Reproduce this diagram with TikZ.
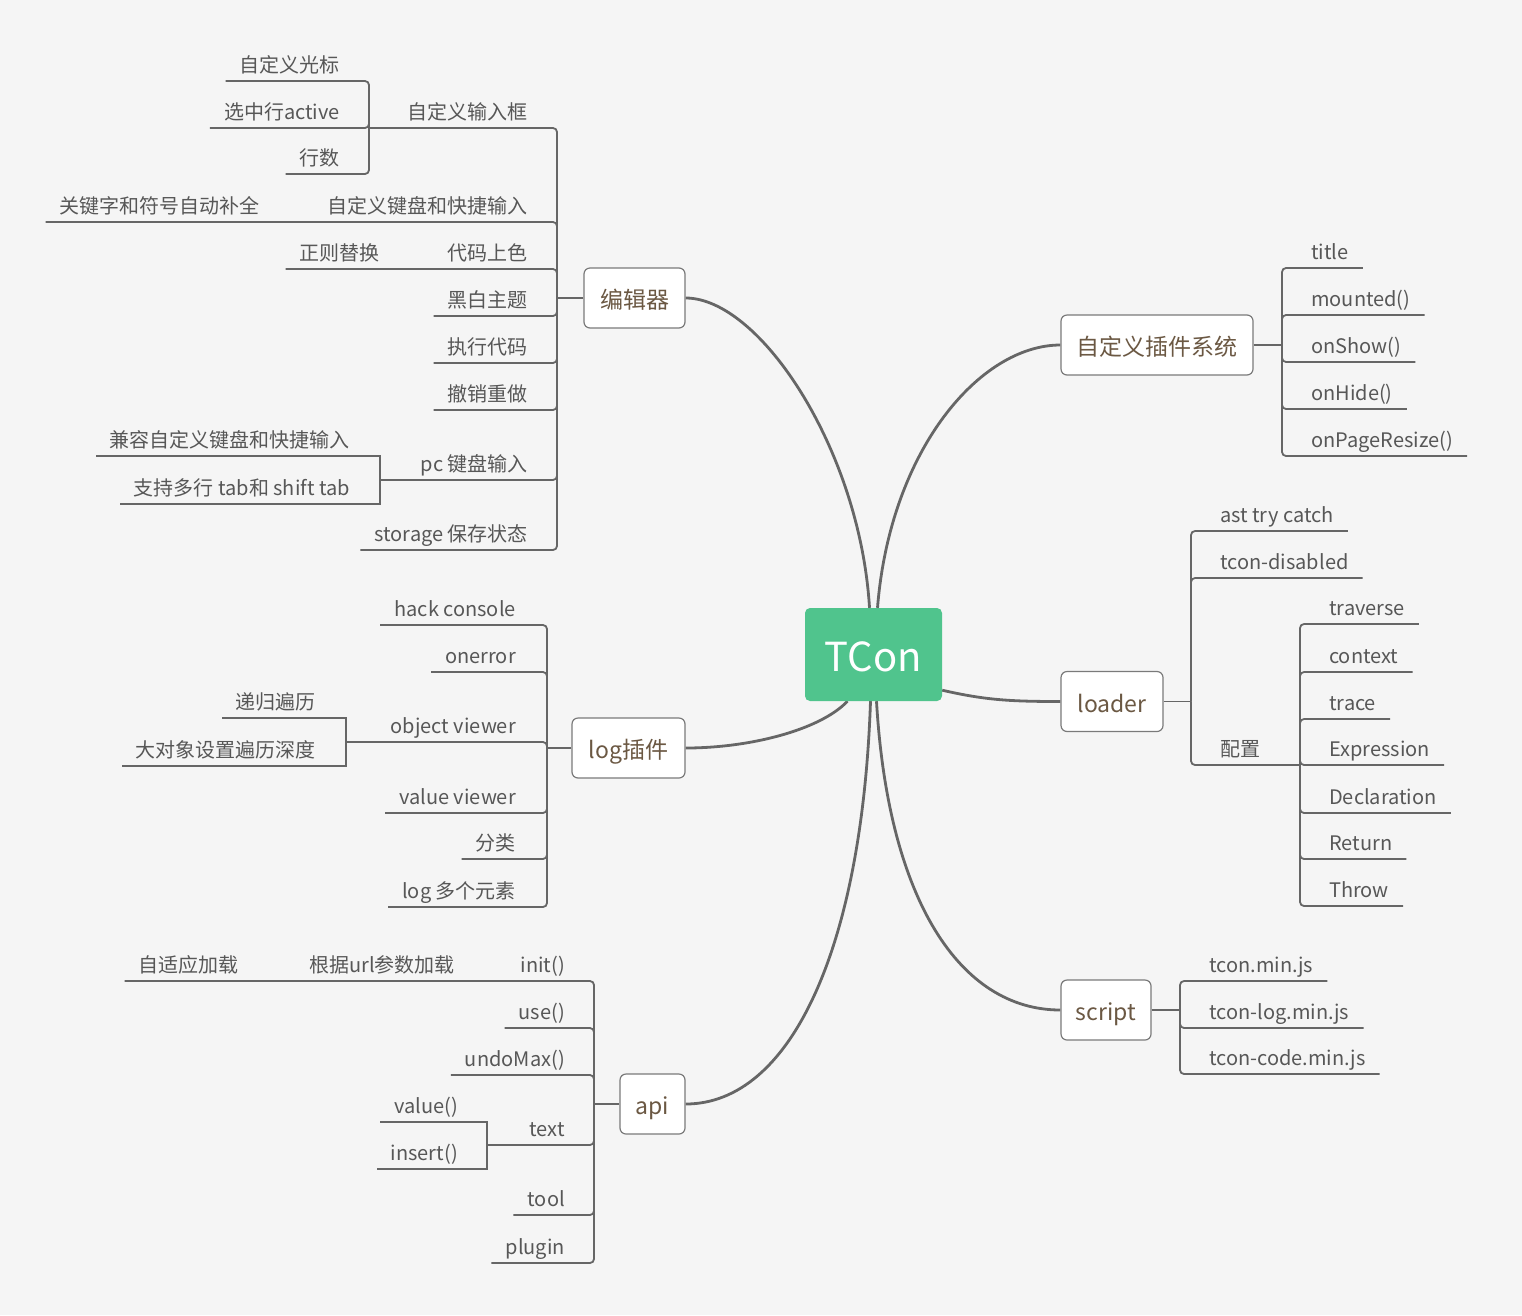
\documentclass[tikz,border=0pt]{standalone}
\usepackage{fontspec}
\setmainfont{Noto Sans CJK SC}
\definecolor{bgc}{HTML}{F5F5F5}
\definecolor{linec}{HTML}{666666}
\definecolor{leafc}{HTML}{575757}
\definecolor{mainc}{HTML}{6B5843}
\definecolor{boxc}{HTML}{7A7A7A}
\definecolor{tcong}{HTML}{50C48D}
\pgfdeclarelayer{bglayer}
\pgfdeclarelayer{midlayer}
\pgfsetlayers{bglayer,midlayer,main}
\begin{document}
\begin{tikzpicture}[x=1pt,y=-1pt,
  leaf/.style={inner sep=0pt, text height=16pt, text depth=8pt, font=\fontsize{20}{24}\selectfont, text=leafc},
  lL/.style={leaf, anchor=south east},
  lR/.style={leaf, anchor=south west},
  mainbox/.style={draw=boxc, line width=1.2pt, fill=white, rounded corners=6pt, minimum height=60pt, inner sep=0pt, text height=21pt, text depth=0pt, font=\fontsize{23}{28}\selectfont, text=mainc},
  br/.style={draw=linec, line width=1.8pt, rounded corners=4pt},
  brs/.style={draw=linec, line width=1.8pt},
  cv/.style={draw=linec, line width=2.8pt},
]
\begin{pgfonlayer}{bglayer}
\useasboundingbox[fill=bgc] (0,0) rectangle (1522,1315);
\end{pgfonlayer}

% central
\node[fill=tcong, rounded corners=5pt, minimum width=137pt, minimum height=93pt, inner sep=0pt, text height=34pt, text depth=0pt, text=white, font=\fontsize{40}{48}\selectfont] (tc) at (873.5,654.5) {TCon};

% main nodes
\node[mainbox, minimum width=101pt] (ed) at (634.5,298) {编辑器};
\node[mainbox, minimum width=113pt] (lg) at (628.5,748) {log插件};
\node[mainbox, minimum width=65pt] (ap) at (652.5,1104) {api};
\node[mainbox, minimum width=192pt] (ps) at (1157,345) {自定义插件系统};
\node[mainbox, minimum width=102pt] (ld) at (1112,701.5) {loader};
\node[mainbox, minimum width=90pt] (sc) at (1106,1010) {script};

% curves
\begin{pgfonlayer}{midlayer}
\draw[cv] ([xshift=-4pt]tc.north) .. controls (860,450) and (760,298) .. (ed.east);
\draw[cv] ([xshift=4pt]tc.north) .. controls (890,450) and (980,345) .. (ps.west);
\draw[cv] ([xshift=-26pt]tc.south) .. controls (820,730) and (750,748) .. (lg.east);
\draw[cv] ([xshift=-3pt]tc.south) .. controls (862,950) and (790,1104) .. (ap.east);
\draw[cv] ([xshift=3pt]tc.south) .. controls (888,900) and (960,1010) .. (sc.west);
\draw[cv] ([yshift=11pt]tc.south east) .. controls (985,700) and (1010,701.5) .. (ld.west);
\end{pgfonlayer}

% ---------------- editor
\coordinate (je) at (557,298);
\draw[brs] (ed.west) -- (je);
\node[lL] (e1) at (528,128) {自定义输入框};
\node[lL] (e2) at (528,222) {自定义键盘和快捷输入};
\node[lL] (e3) at (528,269) {代码上色};
\node[lL] (e4) at (528,316) {黑白主题};
\node[lL] (e5) at (528,363) {执行代码};
\node[lL] (e6) at (528,410) {撤销重做};
\node[lL] (e7) at (528,480) {pc 键盘输入};
\node[lL] (e8) at (528,550) {storage 保存状态};
\foreach \n in {e4,e5,e6,e8}{
  \draw[br] (je) |- (\n.south east) -- ([xshift=-14pt]\n.south west);
}
% e1 sub
\coordinate (je1) at (369,128);
\draw[br] (je) |- (e1.south east) -- (je1);
\node[lL] (e11) at (340,81) {自定义光标};
\node[lL] (e12) at (340,128) {选中行active};
\node[lL] (e13) at (340,174) {行数};
\foreach \n in {e11,e12,e13}{
  \draw[br] (je1) |- (\n.south east) -- ([xshift=-14pt]\n.south west);
}
% e2 chain
\node[lL] (e21) at (260,222) {关键字和符号自动补全};
\draw[br] (je) |- (e2.south east) -- (e21.south east) -- ([xshift=-14pt]e21.south west);
% e3 chain
\node[lL] (e31) at (380,269) {正则替换};
\draw[br] (je) |- (e3.south east) -- (e31.south east) -- ([xshift=-14pt]e31.south west);
% e7 sub
\coordinate (je7) at (380,480);
\draw[br] (je) |- (e7.south east) -- (je7);
\node[lL] (e71) at (350,456) {兼容自定义键盘和快捷输入};
\node[lL] (e72) at (350,504) {支持多行 tab和 shift tab};
\foreach \n in {e71,e72}{
  \draw[brs] (je7) |- (\n.south east) -- ([xshift=-14pt]\n.south west);
}

% ---------------- log
\coordinate (jl) at (547,748);
\draw[brs] (lg.west) -- (jl);
\node[lL] (l1) at (516,625) {hack console};
\node[lL] (l2) at (516,672) {onerror};
\node[lL] (l3) at (516,742) {object viewer};
\node[lL] (l4) at (516,813) {value viewer};
\node[lL] (l5) at (516,859) {分类};
\node[lL] (l6) at (516,907) {log 多个元素};
\foreach \n in {l1,l2,l4,l5,l6}{
  \draw[br] (jl) |- (\n.south east) -- ([xshift=-14pt]\n.south west);
}
\coordinate (jl3) at (346,742);
\draw[br] (jl) |- (l3.south east) -- (jl3);
\node[lL] (l31) at (316,718) {递归遍历};
\node[lL] (l32) at (316,766) {大对象设置遍历深度};
\foreach \n in {l31,l32}{
  \draw[brs] (jl3) |- (\n.south east) -- ([xshift=-14pt]\n.south west);
}

% ---------------- api
\coordinate (ja) at (594,1104);
\draw[brs] (ap.west) -- (ja);
\node[lL] (a1) at (565,981) {init()};
\node[lL] (a2) at (565,1028) {use()};
\node[lL] (a3) at (565,1075) {undoMax()};
\node[lL] (a4) at (565,1145) {text};
\node[lL] (a5) at (565,1215) {tool};
\node[lL] (a6) at (565,1263) {plugin};
\foreach \n in {a2,a3,a5,a6}{
  \draw[br] (ja) |- (\n.south east) -- ([xshift=-14pt]\n.south west);
}
\node[lL] (a11) at (455,981) {根据url参数加载};
\node[lL] (a12) at (239,981) {自适应加载};
\draw[br] (ja) |- (a1.south east) -- (a11.south east) -- (a12.south east) -- ([xshift=-14pt]a12.south west);
\coordinate (ja4) at (487,1145);
\draw[br] (ja) |- (a4.south east) -- (ja4);
\node[lL] (a41) at (458,1122) {value()};
\node[lL] (a42) at (458,1169) {insert()};
\foreach \n in {a41,a42}{
  \draw[brs] (ja4) |- (\n.south east) -- ([xshift=-14pt]\n.south west);
}

% ---------------- plugin system
\coordinate (jp) at (1282,345);
\draw[brs] (ps.east) -- (jp);
\node[lR] (p1) at (1311,268) {title};
\node[lR] (p2) at (1311,315) {mounted()};
\node[lR] (p3) at (1311,362) {onShow()};
\node[lR] (p4) at (1311,409) {onHide()};
\node[lR] (p5) at (1311,456) {onPageResize()};
\foreach \n in {p1,p2,p3,p4,p5}{
  \draw[br] (jp) |- (\n.south west) -- ([xshift=14pt]\n.south east);
}

% ---------------- loader
\coordinate (jd) at (1191,701.5);
\draw[brs] (ld.east) -- (jd);
\node[lR] (d1) at (1220,531) {ast try catch};
\node[lR] (d2) at (1220,578) {tcon-disabled};
\node[lR] (d3) at (1220,765) {配置};
\foreach \n in {d1,d2}{
  \draw[br] (jd) |- (\n.south west) -- ([xshift=14pt]\n.south east);
}
\coordinate (jd3) at (1300,765);
\draw[br] (jd) |- (d3.south west) -- (jd3);
\node[lR] (d31) at (1329,624) {traverse};
\node[lR] (d32) at (1329,672) {context};
\node[lR] (d33) at (1329,719) {trace};
\node[lR] (d34) at (1329,765) {Expression};
\node[lR] (d35) at (1329,813) {Declaration};
\node[lR] (d36) at (1329,859) {Return};
\node[lR] (d37) at (1329,906) {Throw};
\foreach \n in {d31,d32,d33,d34,d35,d36,d37}{
  \draw[br] (jd3) |- (\n.south west) -- ([xshift=14pt]\n.south east);
}

% ---------------- script
\coordinate (js) at (1180,1010);
\draw[brs] (sc.east) -- (js);
\node[lR] (s1) at (1209,981) {tcon.min.js};
\node[lR] (s2) at (1209,1028) {tcon-log.min.js};
\node[lR] (s3) at (1209,1074) {tcon-code.min.js};
\foreach \n in {s1,s2,s3}{
  \draw[br] (js) |- (\n.south west) -- ([xshift=14pt]\n.south east);
}
\end{tikzpicture}
\end{document}
